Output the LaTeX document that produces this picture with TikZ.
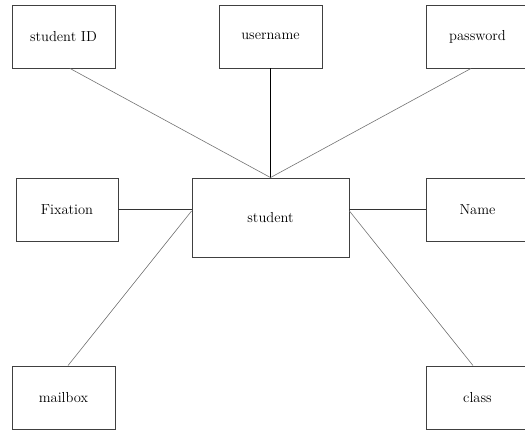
\documentclass[tikz,border=0pt]{standalone}
\usepackage{tikz}
\usetikzlibrary{positioning}
\tikzstyle{entity}=[rectangle, draw=black!75, line width=0.9pt, text centered, minimum width=157pt, minimum height=79pt, inner sep=0pt]
\tikzstyle{attr}=[rectangle, draw=black!75, line width=0.9pt, text centered, minimum width=103pt, minimum height=63pt, inner sep=0pt]
\tikzstyle{link}=[draw=black!55, line width=0.6pt]

\begin{document}
\begin{tikzpicture}[x=1pt, y=1pt, font=\fontsize{14.5}{17}\selectfont]
      %
      \path[use as bounding box] (0,0) rectangle (525,-429);
      %
      % the entity
      %
      \node[entity] (student) at (270.5,-217.5) {student};
      %
      % attributes on top
      %
      \node[attr] (sid) at (63.5,-36.5) {student ID};
      \node[attr] (username) at (270.5,-36.5) {username};
      \node[attr] (password) at (477.5,-36.5) {password};
      %
      % attributes left and right
      %
      \node[attr, minimum width=102pt] (fixation) at (67,-209.5) {Fixation};
      \node[attr] (name) at (477.5,-209.5) {Name};
      %
      % attributes below
      %
      \node[attr] (mailbox) at (63.5,-397.5) {mailbox};
      \node[attr] (class) at (477.5,-397.5) {class};
      %
      % student --- attributes
      %
      \path[link] ([xshift=6.5pt]sid.south) -- (student.north);
      \path[draw=black, line width=0.9pt] (username.south) -- (student.north);
      \path[link] ([xshift=-6.5pt]password.south) -- (student.north);
      \path[draw=black!80, line width=0.8pt] (fixation.east) -- (fixation.east -| student.west);
      \path[draw=black!80, line width=0.8pt] (name.west) -- (name.west -| student.east);
      \path[link] ([yshift=6.5pt]student.west) -- ([xshift=4.5pt]mailbox.north);
      \path[link] ([yshift=6.5pt]student.east) -- ([xshift=-4.5pt]class.north);
      %
\end{tikzpicture}
\end{document}
